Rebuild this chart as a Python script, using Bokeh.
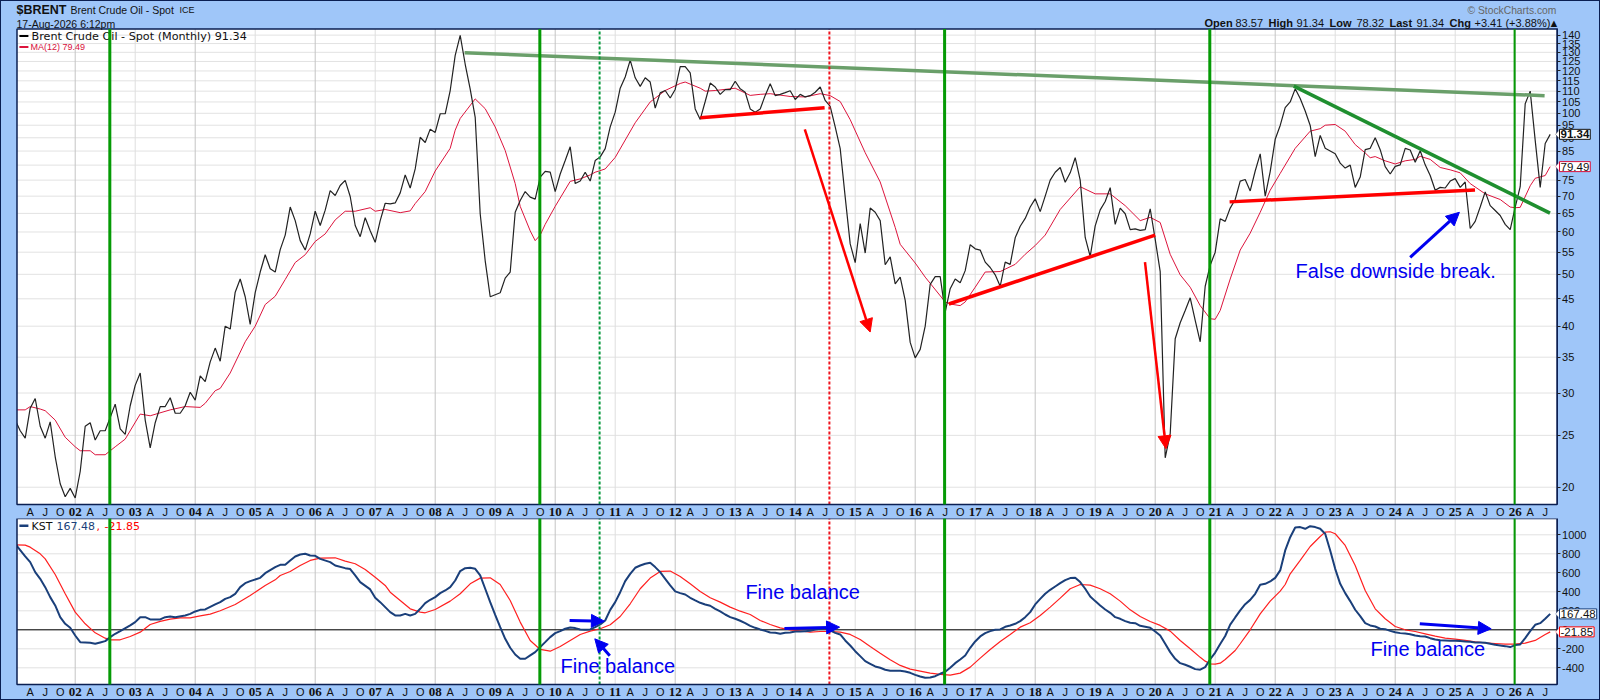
from bokeh.embed import file_html
from bokeh.layouts import column
from bokeh.models import (Arrow, ColumnDataSource, FixedTicker, GlobalInlineStyleSheet,
                          Label, LabelSet, LinearAxis, LogAxis, NormalHead, NumeralTickFormatter,
                          PolyAnnotation, Range1d)
from bokeh.plotting import figure
from bokeh.resources import INLINE

# monthly closes, one row per year, Jan 2001 .. Aug 2026
price = [
    26.7, 25.5, 24.7, 28.1, 29.3, 26, 24.7, 26.5, 22.8, 20.3, 19.2, 19.9,
    19.1, 21.4, 26, 26.4, 24.5, 25.5, 25.5, 27, 28.6, 25.7, 25.1, 28.4,
    31, 32.7, 26.7, 23.7, 26.4, 28.3, 28.3, 29.4, 27.5, 27.5, 28.4, 30.1,
    29.1, 32.3, 31.5, 34.3, 36.4, 34.4, 40, 39.5, 46.3, 49, 45.4, 40.3,
    46.2, 50.5, 54.4, 51.2, 50.5, 55.6, 59.2, 66.8, 63, 57.8, 55.5, 59.5,
    65.6, 61.7, 65.9, 71.7, 70.2, 73.3, 74.9, 69.9, 61.7, 58.8, 63.8, 60.3,
    57.4, 63, 67.9, 67.7, 68, 71, 76.7, 72.5, 78.7, 90.2, 88.2, 93.4,
    92.1, 99.8, 99.8, 110.3, 128.3, 139.8, 123.5, 111, 98.3, 64.9, 53, 45.4,
    45.8, 46.2, 49.2, 50.5, 65.3, 68.7, 71.4, 69.7, 69.1, 76, 77.9, 77.6,
    71.4, 77, 81.6, 86.6, 73.9, 74.7, 77.6, 74.7, 81.6, 82.9, 85.9, 94.3,
    100.5, 111.4, 116.9, 125.7, 116.5, 112.3, 116.5, 114.4, 102.3, 109.2, 110.3, 106.8,
    110.8, 122.3, 122.3, 119, 101.9, 97.4, 105.2, 113.9, 112, 108.5, 110.7, 110.7,
    114.8, 111.1, 109.5, 101.9, 100.5, 101.9, 108, 113.6, 107.9, 108.5, 109.3, 110.2,
    106.1, 108.5, 107.3, 107.9, 109.5, 112, 105.7, 103, 94.3, 85.9, 69.7, 57,
    52.6, 62.2, 54.8, 66.5, 65.3, 63, 52.1, 53.9, 48, 49.4, 44.7, 37.3,
    34.9, 36.2, 40, 47.9, 49.5, 49.5, 42.5, 47, 49, 48.2, 50.8, 56.8,
    55.8, 55.5, 52.7, 51.5, 49.9, 47.5, 52.7, 52.2, 58.5, 61.5, 63.6, 66.8,
    69.2, 65.5, 70, 75, 77.6, 79.2, 74.3, 77.4, 82.6, 75, 58.6, 54,
    61.6, 66, 68.4, 72.6, 62, 66.5, 64.9, 60.6, 60.8, 60.4, 60.6, 66.3,
    58.1, 50.6, 22.7, 25.2, 37.9, 40.6, 42.8, 45.2, 41, 37.4, 47.5, 52,
    55, 63.5, 62.8, 66.5, 69, 74.7, 75.2, 71.6, 78, 84, 70, 77.8,
    89.4, 94.9, 102.5, 105, 111.1, 106.6, 101, 94.9, 83, 90.9, 86, 85,
    84, 80.7, 79, 80, 72.7, 76, 85.5, 86, 90, 85.5, 79.5, 77,
    79.6, 80.1, 86, 85.4, 81, 85.1, 80.1, 76.5, 71.8, 72.7, 72.5, 74.7,
    75.5, 72.7, 74.4, 60.9, 62.8, 66.8, 71.3, 67.2, 65.8, 64.4, 62, 60.6,
    66.8, 72.9, 104.2, 110, 89, 72.7, 87.8, 91.34,
]

# the smooth series are read at months counted from Jan 2001
ma_month = [0, 2, 3, 5, 6, 8, 10, 12, 13, 15, 16, 18, 20, 22, 25, 27, 31, 34, 37, 38, 40, 41, 43, 46,
            48, 50, 52, 54, 56, 58, 60, 62, 64, 66, 68, 71, 72, 74, 77, 79, 80, 82, 84, 87, 88, 89,
            92, 94, 96, 98, 100, 101, 103, 104, 105, 106, 108, 111, 113, 115, 116, 118, 120, 124,
            127, 130, 133, 134, 137, 138, 140, 144, 147, 149, 151, 155, 158, 161, 163, 165, 167,
            170, 173, 176, 177, 180, 182, 186, 187, 189, 190, 192, 194, 197, 200, 202, 204, 206,
            209, 213, 216, 219, 222, 225, 227, 229, 231, 233, 235, 237, 239, 240, 241, 243, 245,
            247, 249, 251, 253, 256, 259, 261, 262, 264, 266, 268, 270, 271, 272, 274, 276, 278,
            280, 281, 283, 285, 287, 289, 291, 294, 297, 299, 300, 301, 303, 304, 306, 307]
ma_value = [27.9, 27.9, 28.3, 28, 27.8, 26.7, 24.8, 23.8, 23.4, 23.4, 23, 23, 23.8, 24.6, 27.4, 27.2,
            27.9, 28.3, 28.2, 28.7, 30.3, 30.6, 32.7, 37.4, 40, 43.9, 45.5, 48.9, 52.6, 54.4, 57.6,
            59.5, 63.2, 65.6, 65.6, 66.6, 65.6, 66.1, 65.2, 65.7, 67.8, 71.4, 78, 86, 93, 97.8,
            106.4, 102, 94.3, 85.2, 73.9, 67, 60.3, 57.8, 59.2, 62, 67, 74.6, 75.4, 76.7, 77.6,
            78.7, 82.7, 96, 105, 110.3, 113.7, 114.4, 111.4, 110, 110.3, 111.4, 108, 108.5, 108.8,
            107.5, 107.3, 108.8, 107.9, 105.2, 97.3, 84.4, 74.4, 61.2, 56.9, 52.5, 49.4, 44.4, 44,
            43.7, 44.4, 47.3, 50.5, 50.6, 52.2, 54.5, 56.6, 59.2, 66.1, 72.9, 70.7, 70.7, 67.2, 63,
            63.9, 62.5, 54.5, 49.9, 47.3, 43.7, 41.3, 41.2, 42.8, 49, 55.5, 59.7, 65.3, 71.8, 77.2,
            86, 92.6, 93.6, 95, 95.3, 92.6, 87.4, 84.3, 82.6, 83, 81.5, 80.4, 81.5, 82, 83.1, 82,
            79.2, 78.4, 77.4, 73.9, 70.7, 69, 66.8, 66.6, 66.7, 73.2, 75.6, 76.5, 79.49]

kst_month = [0, 2, 3, 4, 5, 6, 7, 8, 9, 10, 11, 12, 13, 15, 16, 17, 18, 19, 20, 21, 23, 24, 25, 26, 27, 29,
             30, 31, 32, 34, 35, 36, 37, 38, 40, 41, 42, 43, 44, 45, 46, 47, 49, 50, 52, 53, 54, 55,
             56, 57, 58, 59, 60, 61, 63, 64, 66, 67, 68, 69, 71, 72, 73, 74, 75] + list(range(76, 308))
kst_value = [905, 772, 712, 607, 537, 449, 344, 256, 133, 63, 21, -60, -130, -137, -147, -133, -119, -77,
             -42, -14, 46, 81, 133, 133, 109, 109, 133, 140, 133, 151, 168, 193, 210, 214, 267, 291,
             326, 344, 379, 449, 491, 512, 547, 596, 660, 684, 684, 730, 772, 793, 800, 782, 779, 747,
             712, 677, 649, 639, 572, 502, 425, 337, 291, 239, 186,
             151, 151, 168, 151, 168, 221, 281, 316, 344, 386, 414, 449, 519, 618, 649, 653, 642, 572,
             432, 291, 158, 28, -95, -189, -260, -305, -305, -270, -235, -182, -130, -77, -35, -14,
             11, 25, 18, 4, 0, 4, 28, 56, 98, 210, 291, 396, 512, 589, 653, 677, 695, 705, 660, 607,
             537, 467, 404, 386, 372, 337, 309, 284, 267, 253, 221, 193, 161, 133, 116, 95, 70, 42,
             21, 4, -11, -28, -32, -42, -32, -28, -18, -18, -14, -11, 4, 11, 18, -7, -32, -49, -112,
             -165, -225, -277, -330, -358, -386, -400, -421, -432, -432, -432, -439, -453, -474,
             -491, -505, -502, -488, -463, -442, -400, -351, -312, -270, -189, -123, -70, -35, -14,
             0, 4, 32, 46, 63, 91, 133, 186, 267, 326, 379, 421, 456, 491, 523, 544, 547, 502, 432,
             351, 302, 256, 214, 179, 133, 116, 91, 74, 70, 42, 32, 21, -18, -60, -147, -235, -305,
             -351, -368, -389, -414, -420, -393, -310, -240, -150, -65, 55, 130, 204, 270, 315, 379,
             474, 484, 509, 547, 625, 835, 975, 1077, 1081, 1063, 1091, 1081, 1063, 1011, 835, 642,
             484, 386, 302, 211, 144, 70, 46, 35, 11, 7, -11, -25, -35, -39, -46, -60, -67, -70,
             -88, -102, -109, -112, -116, -116, -119, -123, -126, -133, -133, -137, -147, -158,
             -165, -172, -182, -161, -154, -88, -14, 53, 70, 116, 167.48]

signal_month = [0, 2, 3, 5, 6, 8, 10, 12, 14, 16, 18, 19, 21, 23, 25, 27, 29, 31, 33, 35, 37, 39, 41, 44, 47,
                50, 52, 53, 55, 57, 59, 61, 64, 66, 68, 70, 72, 74, 75, 77, 79, 81, 82, 84, 87, 89, 91,
                93, 95, 97, 99, 101, 103, 105, 107, 109, 111, 113, 115, 117, 119, 121, 123, 125, 127,
                129, 131, 133, 135, 137, 139, 141, 143, 145, 147, 149, 151, 153, 155, 157, 159, 161,
                163, 165, 167, 169, 171, 173, 175, 177, 179, 181, 183, 185, 187, 189, 191, 193, 195,
                197, 199, 201, 203, 205, 207, 209, 211, 213, 215, 217, 219, 221, 223, 225, 227, 229,
                231, 233, 235, 237, 238, 239, 240, 241, 242, 244, 245, 247, 249, 251, 253, 254, 255,
                257, 259, 261, 262, 263, 264, 266, 268, 270, 272, 274, 276, 278, 280, 282, 284, 286,
                288, 290, 292, 294, 296, 298, 300, 302, 304, 306, 307]
signal_value = [895, 891, 870, 800, 747, 582, 379, 186, 63, -32, -88, -105, -105, -70, -25, 56, 88, 112, 126,
                126, 147, 165, 200, 267, 361, 467, 526, 572, 614, 677, 730, 754, 758, 723, 695, 635, 554,
                467, 396, 309, 221, 186, 179, 214, 302, 379, 484, 544, 547, 477, 309, 81, -112, -207,
                -225, -175, -112, -49, -14, 11, 53, 140, 274, 432, 544, 614, 618, 561, 484, 404, 337, 291,
                239, 196, 161, 98, 56, 21, 0, -11, -25, -18, -18, -25, -49, -102, -175, -246, -316, -375,
                -414, -435, -456, -470, -477, -456, -393, -298, -207, -123, -49, 28, 74, 151, 239, 333,
                432, 477, 470, 432, 379, 302, 210, 140, 88, 46, -14, -112, -200, -290, -330, -358, -361,
                -351, -312, -218, -147, 0, 168, 302, 407, 477, 589, 730, 877, 982, 1028, 1032, 1011, 888,
                677, 414, 221, 116, 35, 0, -18, -42, -67, -88, -98, -112, -126, -137, -144, -151, -151,
                -140, -112, -49, -21.85]

price_ticks = [140, 135, 130, 125, 120, 115, 110, 105, 100, 95, 90, 85, 80, 75, 70, 65, 60, 55, 50, 45, 40, 35, 30, 25, 20]
kst_ticks = [1000, 800, 600, 400, 200, 0, -200, -400]
year_labels = list(range(2002, 2027))
month_labels = {0.25: "A", 0.5: "J", 0.75: "O"}

# vertical markers (decimal year)
solid_lines = [2002.577, 2009.744, 2016.49, 2020.91]
last_line = 2025.99
green_dash = 2010.74
red_dash = 2014.57

BG = "#9fc6f9"
NAVY = "#0b1f52"
FONT = "Liberation Sans"
WIDE = "DejaVu Sans"
# panel extents; the frames fill the canvas so tags and header text are not cut off
X0, X1 = 2001.03, 2026.697
XMIN, XMAX = 2000.755, 2027.4217


def to_year(m):
    return [2001 + v / 12 for v in m]


def panel(height, ymin, ymax, y0, y1, ticks, labels_y, log):
    kw = dict(y_axis_type="log") if log else {}
    p = figure(width=1600, height=height, x_range=Range1d(XMIN, XMAX), y_range=Range1d(ymin, ymax),
               x_axis_location=None, y_axis_location=None, output_backend="svg", toolbar_location=None,
               min_border=0, min_border_left=0, min_border_right=0, min_border_top=0, min_border_bottom=0,
               background_fill_color=BG, border_fill_color=BG, outline_line_color=None, **kw)
    p.grid.visible = False
    p.quad(left=X0, right=X1, bottom=y0, top=y1, fill_color="white", line_color=None)
    p.segment(X0, ticks, X1, ticks, color="#e2e2e2", line_width=1)
    odd = [y for y in year_labels if y % 2 == 1]
    even = [y for y in year_labels if y % 2 == 0]
    p.segment(odd, y0, odd, y1, color="#dedede", line_width=1)
    p.segment(even, y0, even, y1, color="#c4c4c4", line_width=1)

    axis_cls = LogAxis if log else LinearAxis
    yax = axis_cls(ticker=FixedTicker(ticks=ticks), formatter=NumeralTickFormatter(format="0"),
                   fixed_location=X1, bounds=(y0, y1))
    yax.axis_line_color = NAVY
    yax.major_tick_line_color = "#222222"
    yax.major_tick_out = 3
    yax.major_tick_in = 0
    yax.minor_tick_line_color = None
    yax.major_label_standoff = 2
    yax.major_label_text_font = FONT
    yax.major_label_text_font_size = "11px"
    yax.major_label_text_color = "#111111"
    p.add_layout(yax, "right")

    mticks = []
    over = {}
    for y in range(2001, 2027):
        for f, s in month_labels.items():
            if y + f < X1:
                mticks.append(y + f)
                over[y + f] = s
    ax = LinearAxis(ticker=FixedTicker(ticks=mticks), major_label_overrides=over, fixed_location=y0)
    ax.axis_line_color = None
    ax.major_tick_line_color = None
    ax.minor_tick_line_color = None
    ax.major_tick_out = 0
    ax.major_tick_in = 0
    ax.major_label_standoff = 1
    ax.major_label_text_font = FONT
    ax.major_label_text_font_size = "11px"
    ax.major_label_text_color = "#111111"
    p.add_layout(ax, "below")

    src = ColumnDataSource(dict(x=year_labels, y=[labels_y] * len(year_labels),
                                t=["%02d" % (y % 100) for y in year_labels]))
    p.add_layout(LabelSet(x="x", y="y", text="t", source=src, y_units="canvas", text_align="center",
                          text_baseline="middle", text_font=FONT, text_font_style="bold",
                          text_font_size="13px", text_color="#111111"))
    return p


def finish(p, y0, y1):
    # closes the panel: hides what runs past its left edge, then draws markers and frame
    p.quad(left=XMIN, right=X0, bottom=y0, top=y1, fill_color=BG, line_color=None)
    p.segment(solid_lines, y0, solid_lines, y1, color="#059a05", line_width=3, level="overlay")
    p.segment(last_line, y0, last_line, y1, color="#059a05", line_width=2, level="overlay")
    p.segment(green_dash, y0, green_dash, y1, color="#069a3c", line_width=2, line_dash="3 2")
    p.segment(red_dash, y0, red_dash, y1, color="#f0121c", line_width=2, line_dash="3 2")
    p.quad(left=X0, right=X1, bottom=y0, top=y1, fill_color=None, line_color=NAVY, line_width=1.5)


def txt(p, x, y, s, size="11px", color="#111111", style="normal", font=FONT):
    p.add_layout(Label(x=x, y=y, x_units="canvas", y_units="canvas", text=s, text_font=font,
                       text_font_size=size, text_color=color, text_font_style=style,
                       text_baseline="middle"))


def tag(p, val, s, color, style, d):
    p.add_layout(PolyAnnotation(xs=[1555, 1559, 1559], ys=[val, val + d, val - d], xs_units="canvas",
                                fill_color="white", fill_alpha=1, line_color=color, line_width=1))
    p.add_layout(Label(x=1559, y=val, x_units="canvas", text=s, text_font=FONT, text_font_size="11.5px",
                       text_font_style=style, text_color="#111111", text_baseline="middle",
                       background_fill_color="white", border_line_color=color, padding=1))


def arrow(p, x0, y0, x1, y1, color, width, size):
    head = NormalHead(size=size, fill_color=color, line_color=color)
    p.add_layout(Arrow(end=head, x_start=x0, y_start=y0, x_end=x1, y_end=y1, line_color=color, line_width=width))


def note(p, x, y, s):
    p.add_layout(Label(x=x, y=y, text=s, text_font=FONT, text_font_size="20px", text_color="#0000f0"))


# --- price panel
PY0, PY1 = 18.56, 143.8
p = panel(518, 17.48, 162.5, PY0, PY1, price_ticks, 511, True)

txt(p, 16, 9, "$BRENT", size="12.5px", style="bold")
txt(p, 70, 9, "Brent Crude Oil - Spot", size="10.5px")
txt(p, 179, 9, "ICE", size="9px")
txt(p, 16, 23, "17-Aug-2026 6:12pm", size="10.5px")
txt(p, 1467, 10, "© StockCharts.com", size="10.3px", color="#666666")
top_bar = [(1204, "Open", "bold"), (1235, "83.57", "normal"), (1268, "High", "bold"), (1296, "91.34", "normal"),
           (1329, "Low", "bold"), (1356, "78.32", "normal"), (1389, "Last", "bold"), (1416, "91.34", "normal"),
           (1449, "Chg", "bold"), (1474, "+3.41 (+3.88%)", "normal"), (1548, "▲", "normal")]
for bx, s, st in top_bar:
    txt(p, bx, 22, s, size="11px", style=st)
txt(p, 31, 35.5, "Brent Crude Oil - Spot (Monthly) 91.34", size="11.2px", font=WIDE)
txt(p, 30, 46.5, "MA(12) 79.49", size="9px", color="#d8103c")
note(p, 2022.34, 48.4, "False downside break.")

p.line([2001.07, 2001.22], [139.5, 139.5], color="black", line_width=2)
p.line([2001.07, 2001.22], [133, 133], color="#dc143c", line_width=2)
p.line(to_year(ma_month), ma_value, color="#dc143c", line_width=1)
p.line(to_year(range(len(price))), price, color="#222222", line_width=1.2)

# trend lines and arrows drawn on the chart
p.line([2008.49, 2026.49], [129.8, 107.9], color="#6a9f6a", line_width=3.5)
p.line([2022.31, 2026.58], [112.4, 65.06], color="#1f8f2f", line_width=3.5)
p.line([2021.24, 2025.33], [68.3, 71.9], color="#ff0000", line_width=3.5)
p.line([2012.42, 2014.49], [98.1, 102.4], color="#ff0000", line_width=3.5)
p.line([2016.56, 2020.0], [44, 59.2], color="#ff0000", line_width=3.5)
arrow(p, 2014.16, 93.3, 2015.25, 39, "#ff0000", 2.5, 13)
arrow(p, 2019.83, 52.7, 2020.18, 23.6, "#ff0000", 2.5, 13)
arrow(p, 2024.25, 53.8, 2025.07, 65.3, "#0000f0", 3, 13)
finish(p, PY0, PY1)
tag(p, 79.49, "79.49", "#d8103c", "normal", 1.6)
tag(p, 91.34, "91.34", "#111111", "bold", 1.8)

# --- KST panel
KY0, KY1 = -576, 1171
q = panel(182, -744.2, 1171.6, KY0, KY1, kst_ticks, 173, False)

q.segment(X0, 0, X1, 0, color="black", line_width=1)
txt(q, 31, 7.5, "KST", size="11px", font=WIDE)
txt(q, 56, 7.5, "167.48", size="11px", color="#1a3f7a", font=WIDE)
txt(q, 96, 7.5, ",", size="11px", color="#ff0000", font=WIDE)
txt(q, 104, 7.5, "-21.85", size="11px", color="#ff0000", font=WIDE)
note(q, 2010.09, -499, "Fine balance")
note(q, 2013.17, 280, "Fine balance")
note(q, 2023.59, -323, "Fine balance")

q.line([2001.07, 2001.22], [1095, 1095], color="#1a3f7a", line_width=2.5)
q.line(to_year(signal_month), signal_value, color="#ff2020", line_width=1.2)
q.line(to_year(kst_month), kst_value, color="#1a3f7a", line_width=2)

arrow(q, 2010.24, 98, 2010.82, 91, "#0000f0", 3, 13)
arrow(q, 2010.91, -274, 2010.66, -95, "#0000f0", 3, 13)
arrow(q, 2013.82, 14, 2014.74, 28, "#0000f0", 3, 13)
arrow(q, 2024.41, 63, 2025.6, 10.5, "#0000f0", 3, 13)
finish(q, KY0, KY1)
tag(q, -21.85, "-21.85", "#ff0000", "normal", 45)
tag(q, 167.48, "167.48", "#1a3f7a", "normal", 45)

page = column(p, q, spacing=0)
page.stylesheets = [GlobalInlineStyleSheet(css="html,body{margin:0;background:%s;overflow:hidden}"
                                               "body::after{content:'';position:fixed;left:0;top:0;right:0;bottom:0;"
                                               "border:1px solid %s;pointer-events:none}" % (BG, NAVY))]
open("out.html", "w").write(file_html(page, INLINE))
